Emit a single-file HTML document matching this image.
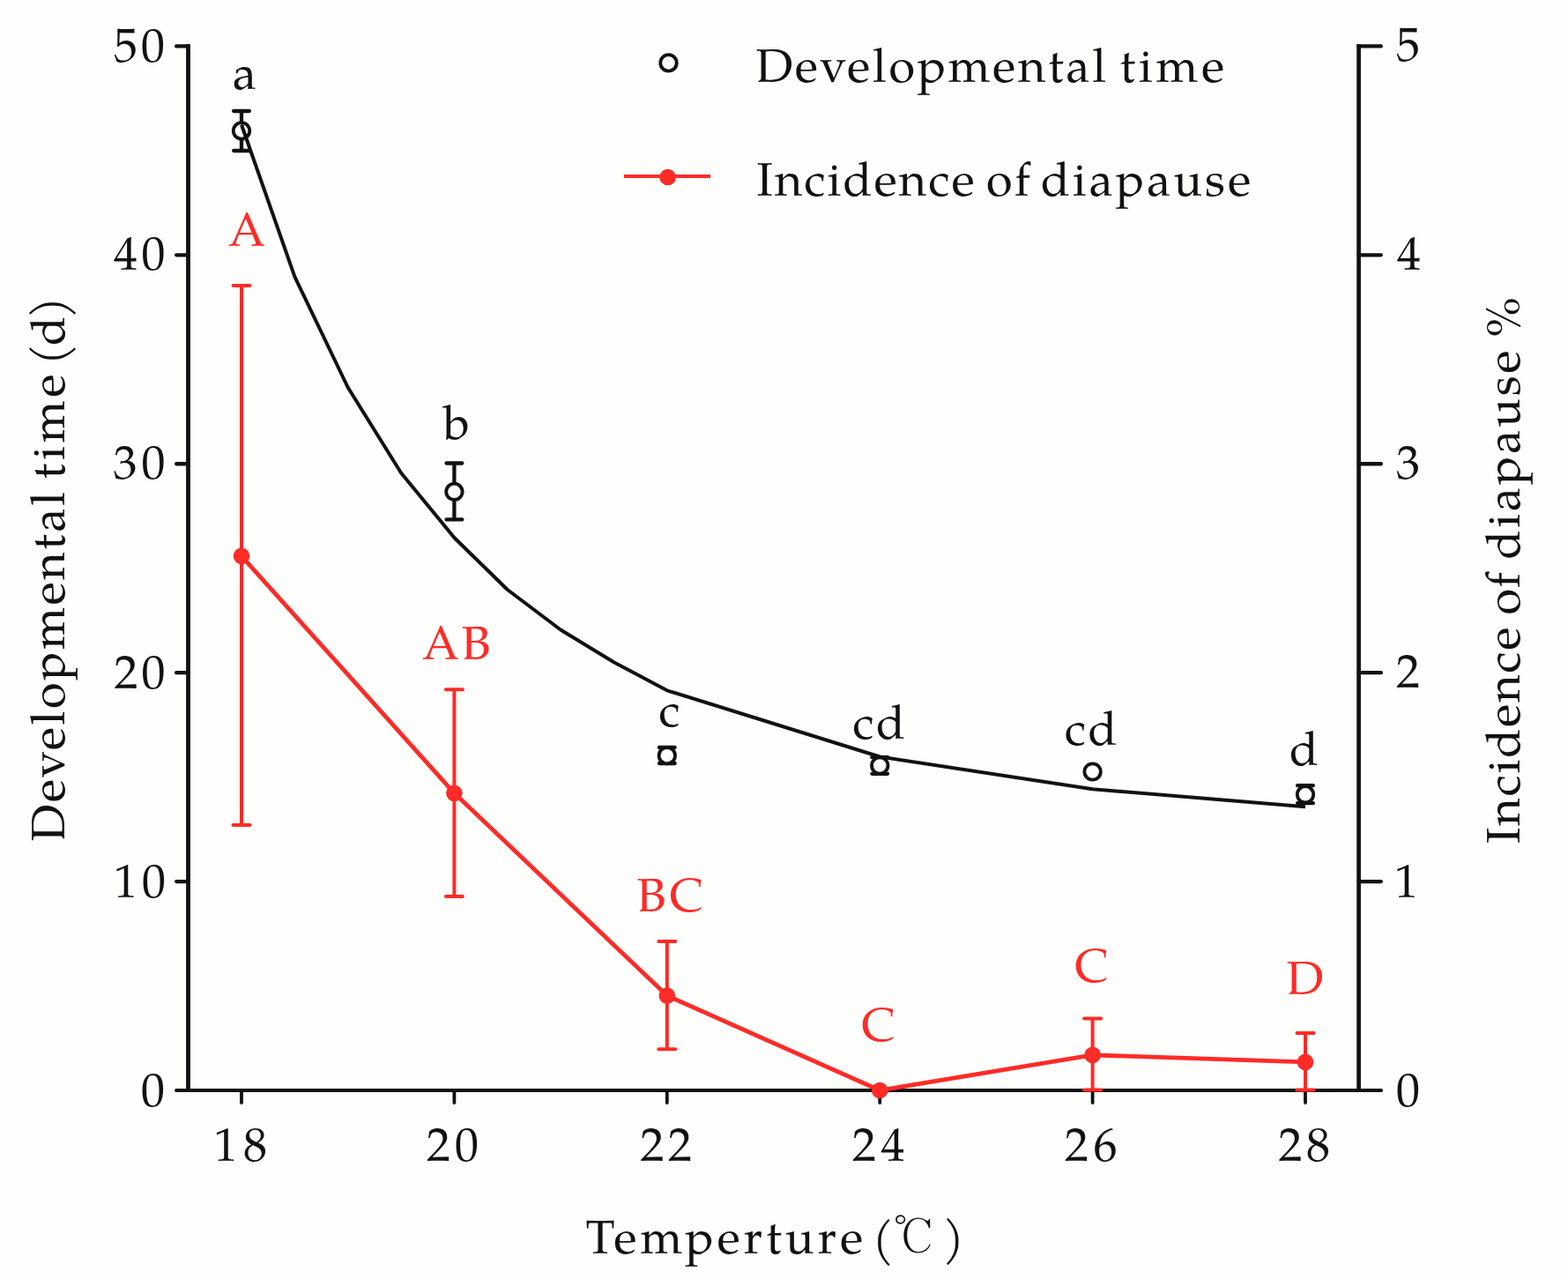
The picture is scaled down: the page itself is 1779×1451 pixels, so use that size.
<!DOCTYPE html><html><head><meta charset="utf-8"><title>Developmental time and incidence of diapause vs temperature</title>
<style>html,body{margin:0;padding:0;background:#FEFEFD;}svg{display:block;}text{font-family:"TeX Gyre Pagella","Palatino Linotype","Book Antiqua",Palatino,"Liberation Serif",serif;font-size:54px;}</style></head><body>
<svg width="1779" height="1451" viewBox="0 0 1779 1451">
<rect x="0" y="0" width="1779" height="1451" fill="#FEFEFD"/>
<g stroke="#111111" fill="none" stroke-linecap="butt">
<line x1="213.5" y1="50.0" x2="213.5" y2="1238.9" stroke-width="4.8"/>
<line x1="1541.6" y1="50.0" x2="1541.6" y2="1238.9" stroke-width="4.7"/>
</g>
<g stroke="#111111" fill="none" stroke-linecap="round">
<line x1="199.90" y1="1237.0" x2="1567.10" y2="1237.0" stroke-width="3.8"/>
<line x1="200.15" y1="1000.08" x2="213.50" y2="1000.08" stroke-width="4.3"/>
<line x1="1541.60" y1="1000.08" x2="1566.85" y2="1000.08" stroke-width="4.3"/>
<line x1="200.15" y1="763.16" x2="213.50" y2="763.16" stroke-width="4.3"/>
<line x1="1541.60" y1="763.16" x2="1566.85" y2="763.16" stroke-width="4.3"/>
<line x1="200.15" y1="526.24" x2="213.50" y2="526.24" stroke-width="4.3"/>
<line x1="1541.60" y1="526.24" x2="1566.85" y2="526.24" stroke-width="4.3"/>
<line x1="200.15" y1="289.32" x2="213.50" y2="289.32" stroke-width="4.3"/>
<line x1="1541.60" y1="289.32" x2="1566.85" y2="289.32" stroke-width="4.3"/>
<line x1="200.15" y1="52.40" x2="213.50" y2="52.40" stroke-width="4.3"/>
<line x1="1541.60" y1="52.40" x2="1566.85" y2="52.40" stroke-width="4.3"/>
<line x1="274.00" y1="1237.0" x2="274.00" y2="1251.10" stroke-width="3.8"/>
<line x1="515.40" y1="1237.0" x2="515.40" y2="1251.10" stroke-width="3.8"/>
<line x1="756.80" y1="1237.0" x2="756.80" y2="1251.10" stroke-width="3.8"/>
<line x1="998.20" y1="1237.0" x2="998.20" y2="1251.10" stroke-width="3.8"/>
<line x1="1239.60" y1="1237.0" x2="1239.60" y2="1251.10" stroke-width="3.8"/>
<line x1="1481.00" y1="1237.0" x2="1481.00" y2="1251.10" stroke-width="3.8"/>
</g>
<g stroke="#FE2B27" fill="none">
<line x1="274.00" y1="323.9" x2="274.00" y2="935.9" stroke-width="4.0"/>
<line x1="264.50" y1="323.9" x2="283.50" y2="323.9" stroke-width="4.0" stroke-linecap="round"/>
<line x1="264.50" y1="935.9" x2="283.50" y2="935.9" stroke-width="4.0" stroke-linecap="round"/>
<line x1="515.40" y1="782.2" x2="515.40" y2="1017.0" stroke-width="4.0"/>
<line x1="505.90" y1="782.2" x2="524.90" y2="782.2" stroke-width="4.0" stroke-linecap="round"/>
<line x1="505.90" y1="1017.0" x2="524.90" y2="1017.0" stroke-width="4.0" stroke-linecap="round"/>
<line x1="756.80" y1="1067.9" x2="756.80" y2="1190.3" stroke-width="4.0"/>
<line x1="747.30" y1="1067.9" x2="766.30" y2="1067.9" stroke-width="4.0" stroke-linecap="round"/>
<line x1="747.30" y1="1190.3" x2="766.30" y2="1190.3" stroke-width="4.0" stroke-linecap="round"/>
<line x1="1239.60" y1="1155.5" x2="1239.60" y2="1236.5" stroke-width="4.0"/>
<line x1="1230.10" y1="1155.5" x2="1249.10" y2="1155.5" stroke-width="4.0" stroke-linecap="round"/>
<line x1="1230.10" y1="1236.5" x2="1249.10" y2="1236.5" stroke-width="4.0" stroke-linecap="round"/>
<line x1="1481.00" y1="1172.0" x2="1481.00" y2="1236.5" stroke-width="4.0"/>
<line x1="1471.50" y1="1172.0" x2="1490.50" y2="1172.0" stroke-width="4.0" stroke-linecap="round"/>
<line x1="1471.50" y1="1236.5" x2="1490.50" y2="1236.5" stroke-width="4.0" stroke-linecap="round"/>
</g>
<polyline points="274.00,630.8 515.40,899.8 756.80,1129.6 998.20,1237.0 1239.60,1196.9 1481.00,1204.9" fill="none" stroke="#FE2B27" stroke-width="4.8" stroke-linejoin="round"/>
<circle cx="274.00" cy="630.8" r="9.3" fill="#FE2B27"/>
<circle cx="515.40" cy="899.8" r="9.3" fill="#FE2B27"/>
<circle cx="756.80" cy="1129.6" r="9.3" fill="#FE2B27"/>
<circle cx="998.20" cy="1237.0" r="9.3" fill="#FE2B27"/>
<circle cx="1239.60" cy="1196.9" r="9.3" fill="#FE2B27"/>
<circle cx="1481.00" cy="1204.9" r="9.3" fill="#FE2B27"/>
<g stroke="#111111" fill="none">
<line x1="274.00" y1="126.0" x2="274.00" y2="171.0" stroke-width="4.3"/>
<line x1="265.15" y1="126.0" x2="282.85" y2="126.0" stroke-width="4.3" stroke-linecap="round"/>
<line x1="265.15" y1="171.0" x2="282.85" y2="171.0" stroke-width="4.3" stroke-linecap="round"/>
<line x1="515.40" y1="525.5" x2="515.40" y2="589.4" stroke-width="4.3"/>
<line x1="506.55" y1="525.5" x2="524.25" y2="525.5" stroke-width="4.3" stroke-linecap="round"/>
<line x1="506.55" y1="589.4" x2="524.25" y2="589.4" stroke-width="4.3" stroke-linecap="round"/>
<line x1="756.80" y1="848.0" x2="756.80" y2="866.0" stroke-width="4.3"/>
<line x1="747.95" y1="848.0" x2="765.65" y2="848.0" stroke-width="4.3" stroke-linecap="round"/>
<line x1="747.95" y1="866.0" x2="765.65" y2="866.0" stroke-width="4.3" stroke-linecap="round"/>
<line x1="998.20" y1="859.2" x2="998.20" y2="877.8" stroke-width="4.3"/>
<line x1="989.35" y1="859.2" x2="1007.05" y2="859.2" stroke-width="4.3" stroke-linecap="round"/>
<line x1="989.35" y1="877.8" x2="1007.05" y2="877.8" stroke-width="4.3" stroke-linecap="round"/>
<line x1="1481.00" y1="891.2" x2="1481.00" y2="911.2" stroke-width="4.3"/>
<line x1="1472.15" y1="891.2" x2="1489.85" y2="891.2" stroke-width="4.3" stroke-linecap="round"/>
<line x1="1472.15" y1="911.2" x2="1489.85" y2="911.2" stroke-width="4.3" stroke-linecap="round"/>
</g>
<circle cx="274.00" cy="148.4" r="9.2" fill="#FEFEFD" stroke="#111111" stroke-width="3.8"/>
<circle cx="515.40" cy="557.8" r="9.2" fill="#FEFEFD" stroke="#111111" stroke-width="3.8"/>
<circle cx="756.80" cy="857.2" r="9.2" fill="#FEFEFD" stroke="#111111" stroke-width="3.8"/>
<circle cx="998.20" cy="868.5" r="9.2" fill="#FEFEFD" stroke="#111111" stroke-width="3.8"/>
<circle cx="1239.60" cy="875.5" r="9.2" fill="#FEFEFD" stroke="#111111" stroke-width="3.8"/>
<circle cx="1481.00" cy="901.3" r="9.2" fill="#FEFEFD" stroke="#111111" stroke-width="3.8"/>
<polyline points="274.00,141.5 334.35,313.8 394.70,439.5 455.05,536.5 515.40,610.0 575.75,669.0 636.10,714.5 696.45,751.2 756.80,783.3 998.20,858.5 1239.60,895.3 1481.00,915.3" fill="none" stroke="#111111" stroke-width="4.0" stroke-linejoin="round"/>
<circle cx="758.5" cy="71.4" r="9.2" fill="#FEFEFD" stroke="#111111" stroke-width="3.8"/>
<line x1="708.0" y1="200.0" x2="806.0" y2="200.0" stroke="#FE2B27" stroke-width="3.8"/>
<circle cx="757.6" cy="201.0" r="9.3" fill="#FE2B27"/>
<text x="129.0" y="69.9" textLength="58.0" lengthAdjust="spacing" fill="#111111">50</text>
<text x="129.0" y="306.0" textLength="58.5" lengthAdjust="spacing" fill="#111111">40</text>
<text x="128.5" y="542.6" textLength="59.0" lengthAdjust="spacing" fill="#111111">30</text>
<text x="129.5" y="780.5" textLength="58.0" lengthAdjust="spacing" fill="#111111">20</text>
<text x="129.0" y="1017.7" textLength="59.0" lengthAdjust="spacing" fill="#111111">10</text>
<text x="160.0" y="1254.7" fill="#111111">0</text>
<text x="1584.0" y="69.4" fill="#111111">5</text>
<text x="1585.0" y="306.3" fill="#111111">4</text>
<text x="1584.0" y="542.8" fill="#111111">3</text>
<text x="1584.0" y="780.3" fill="#111111">2</text>
<text x="1582.0" y="1017.8" fill="#111111">1</text>
<text x="1584.0" y="1254.7" fill="#111111">0</text>
<text x="242.5" y="1316.5" textLength="60.5" lengthAdjust="spacing" fill="#111111">18</text>
<text x="484.0" y="1316.5" textLength="59.0" lengthAdjust="spacing" fill="#111111">20</text>
<text x="726.5" y="1316.5" textLength="58.5" lengthAdjust="spacing" fill="#111111">22</text>
<text x="967.0" y="1316.5" textLength="59.5" lengthAdjust="spacing" fill="#111111">24</text>
<text x="1208.0" y="1316.5" textLength="59.5" lengthAdjust="spacing" fill="#111111">26</text>
<text x="1450.5" y="1316.5" textLength="58.5" lengthAdjust="spacing" fill="#111111">28</text>
<text x="264.0" y="100.85" fill="#111111">a</text>
<text x="503.0" y="498.45" fill="#111111">b</text>
<text x="747.5" y="824.05" fill="#111111">c</text>
<text x="967.5" y="837.75" textLength="59.5" lengthAdjust="spacing" fill="#111111">cd</text>
<text x="1208.0" y="844.85" textLength="59.5" lengthAdjust="spacing" fill="#111111">cd</text>
<text x="1463.0" y="868.25" fill="#111111">d</text>
<text x="259.0" y="279.24" fill="#FE2B27">A</text>
<text x="479.0" y="747.9" textLength="77.5" lengthAdjust="spacing" fill="#FE2B27">AB</text>
<text x="722.5" y="1033.7" textLength="75.5" lengthAdjust="spacing" fill="#FE2B27">BC</text>
<text x="977.5" y="1180.6" fill="#FE2B27">C</text>
<text x="1219.5" y="1113.9" fill="#FE2B27">C</text>
<text x="1459.5" y="1127.75" fill="#FE2B27">D</text>
<text x="0" y="0" transform="translate(1007.1 1421.4) scale(1.06 1)" style='font-size:54.9px;font-family:"Batang","Noto Serif CJK SC",serif;' fill="#111111">℃</text>
<text x="1069.5" y="1422.0" fill="#111111">)</text>
<text x="857.5" y="93.0" textLength="397.5" lengthAdjust="spacing" fill="#111111">Developmental</text>
<text x="1270.5" y="93.0" textLength="118.5" lengthAdjust="spacing" fill="#111111">time</text>
<text x="858.5" y="221.8" textLength="247.0" lengthAdjust="spacing" fill="#111111">Incidence</text>
<text x="1119.0" y="221.8" textLength="50.0" lengthAdjust="spacing" fill="#111111">of</text>
<text x="1181.0" y="221.8" textLength="238.0" lengthAdjust="spacing" fill="#111111">diapause</text>
<text x="664.5" y="1421.85" textLength="314.5" lengthAdjust="spacing" fill="#111111">Temperture</text>
<text x="989.5" y="1422.7" fill="#111111">(</text>
<text x="72.5" y="954.5" textLength="396.5" lengthAdjust="spacing" transform="rotate(-90 72.5 954.5)" fill="#111111">Developmental</text>
<text x="72.5" y="543.5" textLength="119.0" lengthAdjust="spacing" transform="rotate(-90 72.5 543.5)" fill="#111111">time</text>
<text x="72.5" y="414.5" textLength="78.0" lengthAdjust="spacing" transform="rotate(-90 72.5 414.5)" fill="#111111">(d)</text>
<text x="1723.6" y="957.0" textLength="245.5" lengthAdjust="spacing" transform="rotate(-90 1723.6 957.0)" fill="#111111">Incidence</text>
<text x="1723.6" y="697.5" textLength="48.5" lengthAdjust="spacing" transform="rotate(-90 1723.6 697.5)" fill="#111111">of</text>
<text x="1723.6" y="634.5" textLength="237.0" lengthAdjust="spacing" transform="rotate(-90 1723.6 634.5)" fill="#111111">diapause</text>
<text x="1723.6" y="382.5" transform="rotate(-90 1723.6 382.5)" fill="#111111">%</text>
</svg></body></html>
